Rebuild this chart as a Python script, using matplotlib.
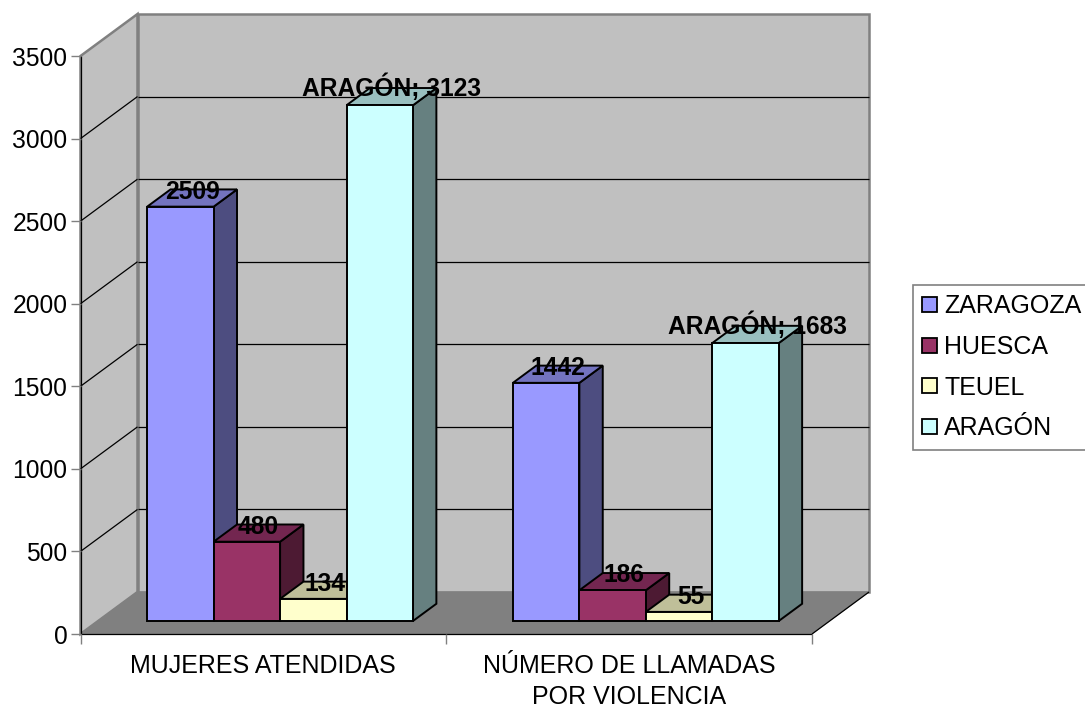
import matplotlib
matplotlib.use("Agg")
from matplotlib import pyplot as plt
from matplotlib.patches import Polygon, Patch

plt.rcParams['font.family'] = ['Liberation Sans', 'DejaVu Sans']

categories = ["MUJERES ATENDIDAS", "NÚMERO DE LLAMADAS\nPOR VIOLENCIA"]
series = ["ZARAGOZA", "HUESCA", "TEUEL", "ARAGÓN"]
zaragoza = [2509, 1442]
huesca = [480, 186]
teruel = [134, 55]
aragon = [3123, 1683]
yticks = [0, 500, 1000, 1500, 2000, 2500, 3000, 3500]

front = ['#9999FF', '#993366', '#FFFFCC', '#CCFFFF']
top = ['#7373BF', '#732650', '#BFBF99', '#99BFBF']
side = ['#4D4D80', '#4D1A33', '#808066', '#668080']

FS = 18
W, H = 1085, 708
fig = plt.figure(figsize=(W / 100, H / 100), dpi=100)
# axes = front plane of the fake 3d box
ax = fig.add_axes([80.5 / W, (H - 634) / H, (812 - 80.5) / W, 578 / H])
ax.set_xlim(0, 2)
ax.set_ylim(0, 3500)

# depth of the box in data units (57 px right, 42 px up)
DX = 57 / (731.5 / 2)
DY = 42 / (578 / 3500)


def pt(x, v, d=0.0):
    return (x + d * DX, v + d * DY)


def face(pts, color, edge='k', lw=1.4, z=2):
    ax.add_patch(Polygon(pts, closed=True, facecolor=color, edgecolor=edge,
                         linewidth=lw, joinstyle='miter', clip_on=False, zorder=z))


def line(a, b, color='k', lw=0.9, z=1.5):
    ax.plot([a[0], b[0]], [a[1], b[1]], color=color, lw=lw, clip_on=False,
            zorder=z, solid_capstyle='butt')


# walls and floor
face([pt(0, 0), pt(0, 0, 1), pt(0, 3500, 1), pt(0, 3500)], '#C0C0C0', '#808080', 1.8, 1)
face([pt(0, 0, 1), pt(2, 0, 1), pt(2, 3500, 1), pt(0, 3500, 1)], '#C0C0C0', '#808080', 1.8, 1)
face([pt(0, 0), pt(2, 0), pt(2, 0, 1), pt(0, 0, 1)], '#808080', '#808080', 0.5, 1.2)

for v in yticks[1:-1]:
    line(pt(0, v), pt(0, v, 1))
    line(pt(0, v, 1), pt(2, v, 1))
line(pt(0, 0), pt(0, 3500))
line(pt(0, 0), pt(2, 0))
line(pt(2, 0), pt(2, 0, 1))

# bars
BW = 0.1817
MARGIN = 0.134
D0, D1 = 0.31, 0.72
values = [zaragoza, huesca, teruel, aragon]
for c in range(len(categories)):
    for s, vals in enumerate(values):
        v = vals[c]
        x0 = c + MARGIN + s * BW
        x1 = x0 + BW
        face([pt(x1, 0, D0), pt(x1, 0, D1), pt(x1, v, D1), pt(x1, v, D0)], side[s])
        face([pt(x0, v, D0), pt(x1, v, D0), pt(x1, v, D1), pt(x0, v, D1)], top[s])
        face([pt(x0, 0, D0), pt(x1, 0, D0), pt(x1, v, D0), pt(x0, v, D0)], front[s])
        # the accent in ARAGÓN pulls the centre of the text down a bit
        label = f"ARAGÓN; {v}" if s == 3 else str(v)
        ax.annotate(label, pt((x0 + x1) / 2, v, (D0 + D1) / 2),
                    xytext=(0, 6.4 if s == 3 else 4.6),
                    textcoords='offset points', ha='center', va='center',
                    fontsize=17.7, fontweight='bold', color='k', zorder=5,
                    annotation_clip=False)

for s in ax.spines.values():
    s.set_visible(False)
ax.patch.set_visible(False)

ax.set_yticks(yticks)
ax.tick_params(axis='y', length=7, width=1, color='#808080', pad=2.5, labelsize=17.7)
ax.yaxis.get_major_ticks()[0].tick1line.set_color('k')

ax.set_xticks([0, 1, 2], minor=True)
ax.tick_params(axis='x', which='minor', length=7, width=1, color='#808080')
ax.set_xticks([0.5, 1.5], categories, fontsize=FS, linespacing=1.36)
ax.tick_params(axis='x', which='major', length=0, pad=14.5)

handles = [Patch(facecolor=f, edgecolor='k', linewidth=1.3) for f in front]
leg = fig.legend(handles, series, loc='upper left', bbox_to_anchor=(912.7 / W, 1 - 284.7 / H),
                 bbox_transform=fig.transFigure, fontsize=FS, fancybox=False, framealpha=1,
                 edgecolor='#808080', borderaxespad=0, borderpad=0.38, handlelength=0.6,
                 handleheight=0.55, handletextpad=0.28, labelspacing=0.67)
leg.get_frame().set_linewidth(1.2)

fig.savefig("out.png", dpi=100)
